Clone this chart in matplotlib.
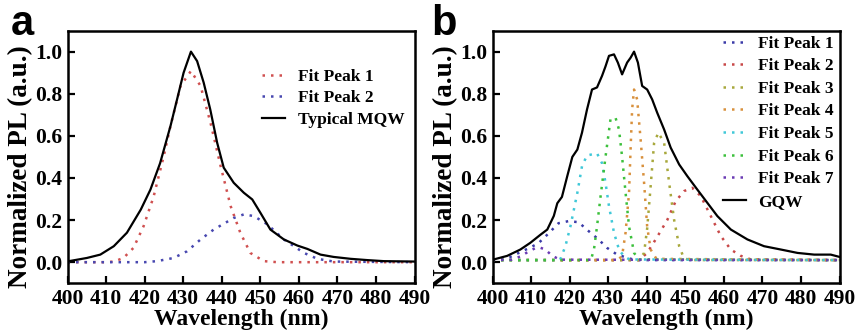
import matplotlib
matplotlib.use('Agg')
import matplotlib.pyplot as plt
import numpy as np

plt.rcParams['font.family'] = 'Liberation Serif'
plt.rcParams['font.weight'] = 'bold'

# ---- panel a data ----
mqw_x = [400, 400.7, 405, 408.5, 412, 415.4, 419, 421.5, 424, 426.7, 428.4, 430.1, 432,
         433.6, 435.3, 437, 438.8, 440.5, 443.1, 445.7, 447.9, 450, 452.6, 456.1, 459.6,
         462.2, 465.6, 469, 473.4, 477.7, 482, 490]
mqw_y = [0.005, 0.006, 0.02, 0.036, 0.076, 0.14, 0.25, 0.345, 0.47, 0.647, 0.773, 0.90, 1.0,
         0.955, 0.853, 0.726, 0.567, 0.449, 0.377, 0.33, 0.298, 0.235, 0.155, 0.108, 0.079,
         0.063, 0.036, 0.025, 0.016, 0.01, 0.005, 0.003]

a_p1_x = [400, 410, 412, 414.5, 417.1, 419.7, 422.3, 424.9, 426.7, 429.3, 432, 434.5, 437.1,
          439.7, 442.3, 444.8, 447.4, 450.9, 454.4, 490]
a_p1_y = [0, 0, 0.003, 0.02, 0.068, 0.17, 0.31, 0.50, 0.647, 0.837, 0.908, 0.837, 0.66,
          0.456, 0.266, 0.14, 0.044, 0.005, 0, 0]

a_p2_x = [400, 420, 423.2, 427.5, 431, 434.5, 437.9, 443.1, 445.7, 448.3, 451.8, 456.1,
          458.7, 461.3, 464.8, 469, 490]
a_p2_y = [0, 0, 0.005, 0.02, 0.052, 0.108, 0.155, 0.21, 0.227, 0.219, 0.18, 0.108,
          0.076, 0.044, 0.016, 0.003, 0]

# ---- panel b data ----
gqw_x = [400, 400.3, 403.8, 407.2, 409.8, 412.4, 414.2, 415.9, 416.8, 418, 419.4, 420.7, 422,
         423.2, 424.5, 425.8, 427.1, 428.4, 429.3, 430.2, 431.5, 432.5, 433.6, 434.9, 435.8,
         436.7, 437.7, 438.8, 440.1, 441.4, 442.7, 444.5, 446.2, 448.4, 450.5, 453.1, 455.7,
         458.3, 461.8, 466.1, 470.4, 474.8, 479.1, 483.4, 487.7, 490]
gqw_y = [0.012, 0.013, 0.03, 0.06, 0.092, 0.13, 0.155, 0.22, 0.28, 0.31, 0.41, 0.50, 0.535,
         0.615, 0.725, 0.82, 0.83, 0.885, 0.93, 0.98, 0.987, 0.948, 0.892, 0.948, 0.971,
         1.0, 0.948, 0.837, 0.82, 0.773, 0.71, 0.63, 0.544, 0.464, 0.409, 0.345, 0.282,
         0.219, 0.155, 0.108, 0.076, 0.06, 0.044, 0.036, 0.036, 0.025]

b_p1_x = [400, 404.6, 409.8, 411.9, 414.5, 417.1, 419.7, 422.3, 424.9, 427.5, 429.7, 432.3, 435.8, 438, 490]
b_p1_y = [0.012, 0.025, 0.07, 0.09, 0.136, 0.185, 0.195, 0.19, 0.148, 0.108, 0.068, 0.036, 0.016, 0.01, 0.01]

b_p2_x = [400, 438, 440.1, 442.3, 445.3, 447.5, 449.7, 451.8, 454, 456.6, 459.2, 461.8, 464.4, 467, 490]
b_p2_y = [0.01, 0.01, 0.044, 0.108, 0.2, 0.29, 0.338, 0.353, 0.314, 0.219, 0.124, 0.06, 0.03, 0.013, 0.01]

b_p3_x = [400, 438, 439.3, 440.1, 441, 441.9, 443, 444.5, 445.8, 447.1, 448.4, 449.6, 451, 490]
b_p3_y = [0.01, 0.01, 0.044, 0.16, 0.36, 0.567, 0.615, 0.567, 0.377, 0.2, 0.076, 0.02, 0.01, 0.01]

b_p4_x = [400, 432.5, 433.6, 434.5, 435.4, 435.8, 436.2, 436.7, 437.5, 438.4, 439.3, 440.1, 441, 442.5, 490]
b_p4_y = [0.01, 0.01, 0.03, 0.14, 0.33, 0.536, 0.726, 0.82, 0.773, 0.583, 0.377, 0.17, 0.06, 0.016, 0.01]

b_p5_x = [400, 417.5, 418.9, 420.2, 422, 423.2, 424.5, 427.1, 428.4, 429.3, 430.2, 431.5, 432.8, 434, 435.5, 490]
b_p5_y = [0.01, 0.01, 0.076, 0.17, 0.33, 0.456, 0.507, 0.517, 0.47, 0.377, 0.266, 0.14, 0.06, 0.03, 0.013, 0.01]

b_p6_x = [400, 425.5, 426.3, 427.1, 428, 429.3, 430.6, 431.9, 432.8, 433.6, 434.5, 435.4, 436.7, 438, 490]
b_p6_y = [0.01, 0.01, 0.06, 0.17, 0.31, 0.50, 0.68, 0.686, 0.63, 0.50, 0.33, 0.17, 0.044, 0.013, 0.01]

b_p7_x = [400, 405, 407.2, 409.3, 411, 412.2, 413.7, 415.5, 417.5, 490]
b_p7_y = [0.01, 0.012, 0.027, 0.05, 0.066, 0.07, 0.06, 0.03, 0.012, 0.01]

b_x = [b_p1_x, b_p2_x, b_p3_x, b_p4_x, b_p5_x, b_p6_x, b_p7_x]
b_y = [b_p1_y, b_p2_y, b_p3_y, b_p4_y, b_p5_y, b_p6_y, b_p7_y]
b_colors = ['#3a3aa8', '#c84848', '#a8a83c', '#d8903c', '#40c8d8', '#3cc03c', '#6a3ab4']
b_labels = ['Fit Peak %d' % i for i in range(1, 8)]

dots = (0, (1, 2.4))

fig = plt.figure(figsize=(8.57, 3.36), dpi=100)
ax1 = fig.add_axes([0.0788, 0.157, 0.405, 0.752])
ax2 = fig.add_axes([0.5747, 0.157, 0.405, 0.752])

ax1.plot(a_p1_x, a_p1_y, color='#d05050', lw=1.8, linestyle=dots, label='Fit Peak 1')
ax1.plot(a_p2_x, a_p2_y, color='#4848b0', lw=1.8, linestyle=dots, label='Fit Peak 2')
ax1.plot(mqw_x, mqw_y, color='black', lw=1.6, label='Typical MQW')

for xs, ys, c, lab in zip(b_x, b_y, b_colors, b_labels):
    ax2.plot(xs, ys, color=c, lw=1.8, linestyle=dots, label=lab)
ax2.plot(gqw_x, gqw_y, color='black', lw=1.6, label='GQW')

for ax in (ax1, ax2):
    ax.set_xlim(400, 490)
    ax.set_ylim(-0.1, 1.1)
    ax.set_xticks(np.arange(400, 491, 10))
    ax.set_yticks(np.arange(0, 1.01, 0.2))
    ax.set_yticklabels(['0.0', '0.2', '0.4', '0.6', '0.8', '1.0'])
    ax.tick_params(direction='in', length=5, width=1.6, labelsize=15.5, pad=4)
    for s in ax.spines.values():
        s.set_linewidth(1.8)
    ax.set_xlabel('Wavelength (nm)', fontsize=17, fontweight='bold', labelpad=0)
    ax.set_ylabel('Normalized PL (a.u.)', fontsize=19.5, fontweight='bold')
    ax.yaxis.set_label_coords(-0.1, 0.46)

fig.legend(handles=ax1.get_lines(), loc='upper left', bbox_to_anchor=(0.3057, 0.795),
           frameon=False, fontsize=12.5, handlelength=1.3, handletextpad=0.8,
           labelspacing=0.3, borderpad=0, borderaxespad=0)
fig.legend(handles=ax2.get_lines(), loc='upper left', bbox_to_anchor=(0.8436, 0.894),
           frameon=False, fontsize=12.5, handlelength=1.3, handletextpad=0.7,
           labelspacing=0.37, borderpad=0, borderaxespad=0)

fig.text(0.013, 0.896, 'a', family='Liberation Sans', fontweight='bold', fontsize=30, va='baseline')
fig.text(0.503, 0.896, 'b', family='Liberation Sans', fontweight='bold', fontsize=30, va='baseline')

fig.savefig('out.png', dpi=100)
